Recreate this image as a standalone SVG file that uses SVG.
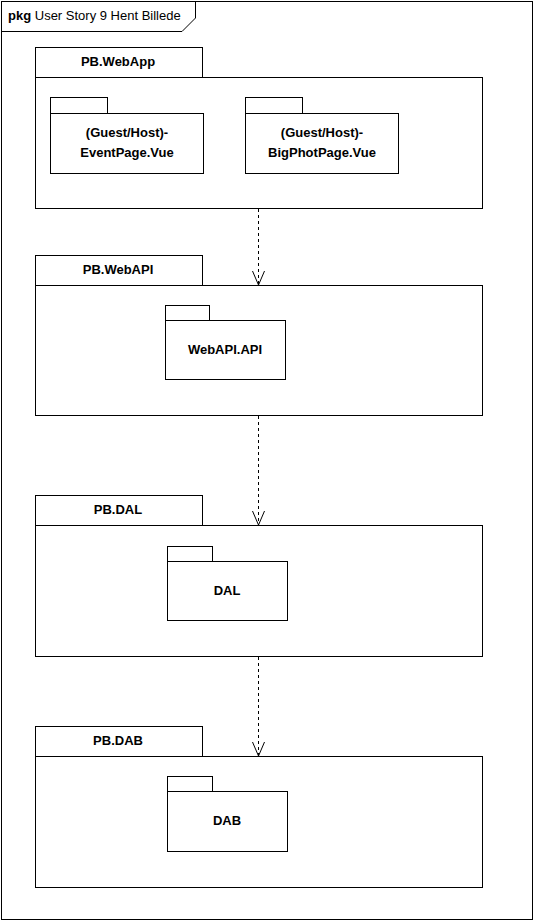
<svg xmlns="http://www.w3.org/2000/svg" width="535" height="922" viewBox="0 0 535 922">
<style>
.f{fill:#fff;stroke:#000;stroke-width:1}
.t{font-family:"Liberation Sans",Arial,sans-serif;font-size:13px;font-weight:bold;fill:#000;text-anchor:middle}
.c{fill:none;stroke:#000;stroke-width:1}
.d{stroke-dasharray:3,3}
</style>
<defs>
<marker id="open" markerWidth="18" markerHeight="14" refX="16" refY="7" orient="auto" markerUnits="userSpaceOnUse" viewBox="0 0 18 14">
<path d="M2,1 L16,7 L2,13" fill="none" stroke="#000" stroke-width="1"/>
</marker>
</defs>
<rect x="0" y="0" width="535" height="922" fill="#fff"/>
<g id="frame">
<rect x="1.5" y="1.5" width="531" height="918" fill="#fff" stroke="#000"/>
<path d="M1.5,31.5 H182 L195.5,18 V1.5" fill="none" stroke="#000"/>
<text x="8" y="20" font-family="Liberation Sans,Arial,sans-serif" font-size="13"><tspan font-weight="bold">pkg</tspan> User Story 9 Hent Billede</text>
</g>
<g id="webapp">
<rect class="f" x="35.5" y="47.5" width="167" height="30"/>
<rect class="f" x="35.5" y="77.5" width="447" height="131"/>
<text class="t" x="118" y="66">PB.WebApp</text>
</g>
<g id="eventpage">
<rect class="f" x="50.5" y="97.5" width="57" height="16"/>
<rect class="f" x="50.5" y="113.5" width="153" height="60"/>
<text class="t" x="127" y="137">(Guest/Host)-</text>
<text class="t" x="127" y="157">EventPage.Vue</text>
</g>
<g id="bigphotpage">
<rect class="f" x="245.5" y="97.5" width="57" height="16"/>
<rect class="f" x="245.5" y="113.5" width="153" height="60"/>
<text class="t" x="322" y="137">(Guest/Host)-</text>
<text class="t" x="322" y="157">BigPhotPage.Vue</text>
</g>
<g id="webapi">
<rect class="f" x="35.5" y="255.5" width="167" height="30"/>
<rect class="f" x="35.5" y="285.5" width="447" height="130"/>
<text class="t" x="118" y="274">PB.WebAPI</text>
</g>
<g id="webapiapi">
<rect class="f" x="165.5" y="305.5" width="44" height="15"/>
<rect class="f" x="165.5" y="320.5" width="120" height="59"/>
<text class="t" x="225" y="354">WebAPI.API</text>
</g>
<g id="dal">
<rect class="f" x="35.5" y="495.5" width="167" height="30"/>
<rect class="f" x="35.5" y="525.5" width="447" height="131"/>
<text class="t" x="118" y="514">PB.DAL</text>
</g>
<g id="dalinner">
<rect class="f" x="167.5" y="546.5" width="45" height="15"/>
<rect class="f" x="167.5" y="561.5" width="120" height="59"/>
<text class="t" x="227" y="595">DAL</text>
</g>
<g id="dab">
<rect class="f" x="35.5" y="726.5" width="167" height="30"/>
<rect class="f" x="35.5" y="756.5" width="447" height="131"/>
<text class="t" x="118" y="745">PB.DAB</text>
</g>
<g id="dabinner">
<rect class="f" x="167.5" y="776.5" width="45" height="15"/>
<rect class="f" x="167.5" y="791.5" width="120" height="60"/>
<text class="t" x="227" y="825">DAB</text>
</g>
<g id="connectors">
<line class="c d" x1="258.5" y1="209" x2="258.5" y2="285" marker-end="url(#open)"/>
<line class="c d" x1="258.5" y1="416" x2="258.5" y2="525" marker-end="url(#open)"/>
<line class="c d" x1="258.5" y1="657" x2="258.5" y2="756" marker-end="url(#open)"/>
</g>
</svg>
